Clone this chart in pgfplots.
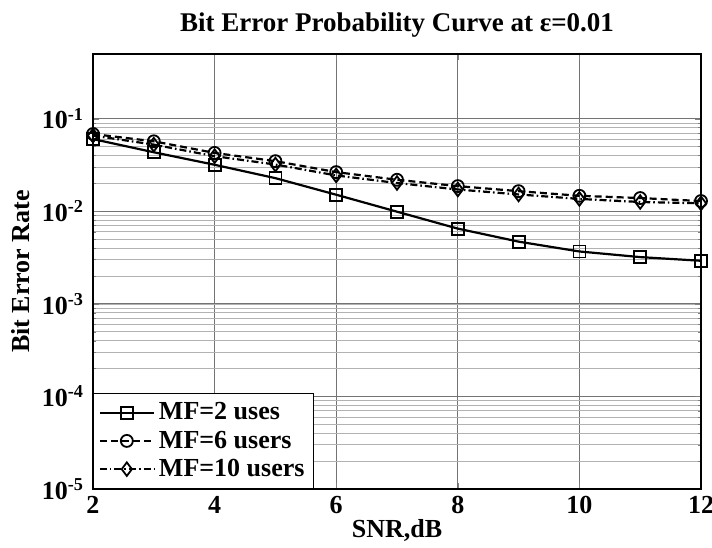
\documentclass[border=0pt]{standalone}
\usepackage{fontspec}
\setmainfont{Liberation Serif}
\usepackage{pgfplots}
\pgfplotsset{compat=1.18}
\begin{document}
\begin{tikzpicture}
\begin{axis}[name=ax,
  scale only axis, width=304pt, height=217.5pt,
  xmin=2, xmax=12, ymode=log, ymin=1e-5, ymax=0.5,
  xtick={2,4,6,8,10,12},
  ytick={1e-5,1e-4,1e-3,1e-2,1e-1},
  yticklabels={10\textsuperscript{-5},10\textsuperscript{-4},10\textsuperscript{-3},10\textsuperscript{-2},10\textsuperscript{-1}},
  /pgf/number format/assume math mode=true,
  tick label style={font=\fontsize{13}{15}\selectfont\bfseries},
  yticklabel style={xshift=-1pt},
  title={Bit Error Probability Curve at ε=0.01},
  title style={font=\fontsize{13.5}{15}\selectfont\bfseries, yshift=-1pt},
  xlabel={SNR,dB}, ylabel={Bit Error Rate},
  label style={font=\fontsize{13}{15}\selectfont\bfseries},
  xlabel style={yshift=4pt}, ylabel style={yshift=-1pt},
  grid=both,
  major grid style={black!55, line width=0.4pt},
  minor grid style={black!30, line width=0.35pt},
  tick align=inside, major tick length=3pt, minor tick length=1.5pt,
  axis line style={line width=0.8pt},
  legend style={at={(0,0)}, anchor=south west, draw=black, line width=0.7pt,
    font=\fontsize{13}{15}\selectfont\bfseries, row sep=0pt, inner sep=2.5pt,
    fill=white, legend cell align=left},
  legend image code/.code={\draw[#1] (0cm,0cm) -- (0.95cm,0cm); \draw[#1, solid] plot coordinates {(0.475cm,0cm)};},
]
\addplot[black, line width=1.1pt, mark=square, mark size=3pt, mark options={solid, line width=0.9pt}]
  coordinates {(2,0.0603) (3,0.0434) (4,0.0318) (5,0.0228) (6,0.0151) (7,0.0099) (8,0.0065) (9,0.0047) (10,0.00368) (11,0.0032) (12,0.00292)};
\addlegendentry{MF=2 uses}
\addplot[black, line width=1.1pt, dash pattern=on 3.5pt off 2pt, mark=o, mark size=3pt, mark options={solid, line width=0.9pt}]
  coordinates {(2,0.0684) (3,0.0570) (4,0.0427) (5,0.0348) (6,0.0265) (7,0.0219) (8,0.0187) (9,0.0165) (10,0.0147) (11,0.0139) (12,0.0129)};
\addlegendentry{MF=6 users}
\addplot[black, line width=1.1pt, dash pattern=on 3.5pt off 1.5pt on 0.8pt off 1.5pt, mark=diamond, mark size=3.4pt, mark options={solid, line width=0.9pt}]
  coordinates {(2,0.0658) (3,0.0525) (4,0.0394) (5,0.0320) (6,0.0244) (7,0.0202) (8,0.0172) (9,0.0152) (10,0.0136) (11,0.0126) (12,0.0122)};
\addlegendentry{MF=10 users}
\end{axis}
\pgfresetboundingbox
\path[use as bounding box] (ax.south west) ++(-46.5pt,-29pt) rectangle ++(356pt,273.5pt);
\end{tikzpicture}
\end{document}
